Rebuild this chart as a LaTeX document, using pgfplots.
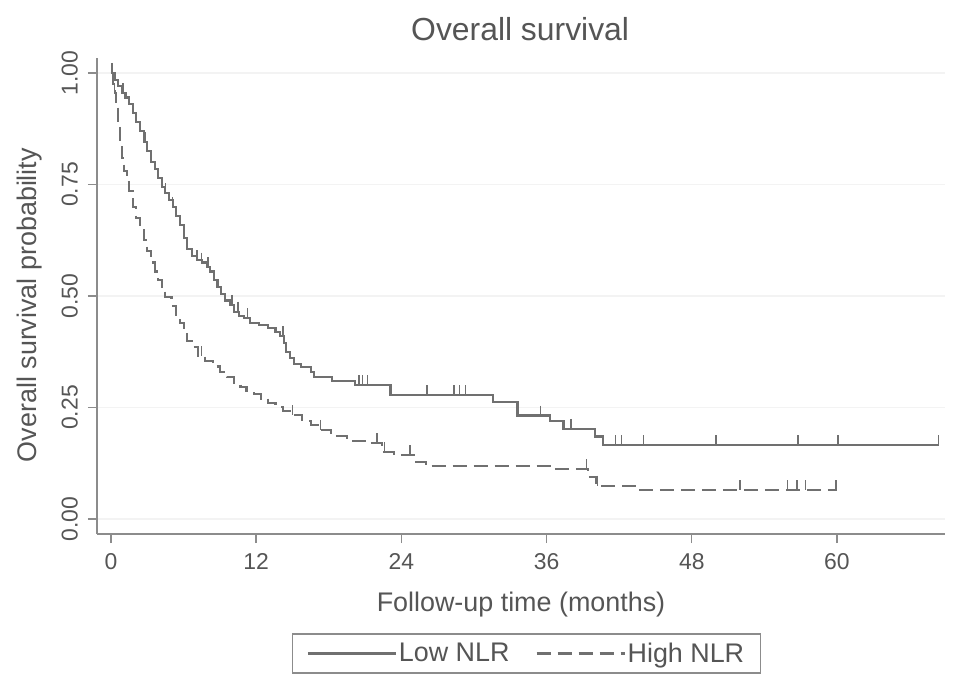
\documentclass[border=0pt]{standalone}
\usepackage{fontspec}
\setmainfont{Liberation Sans}
\usepackage{pgfplots}
\pgfplotsset{compat=1.18}
\definecolor{curve}{RGB}{112,112,112}
\definecolor{txt}{RGB}{85,85,85}
\definecolor{axisgray}{RGB}{140,140,140}
\definecolor{gridc}{RGB}{243,243,243}
\begin{document}
\begin{tikzpicture}
\useasboundingbox (-97bp,-158bp) rectangle (872bp,534bp);
\begin{axis}[
  scale only axis, width=848bp, height=476bp,
  xmin=-1.157, xmax=68.93, ymin=-0.0336, ymax=1.0336,
  axis x line*=bottom, axis y line*=left,
  axis line style={axisgray, line width=1.6bp, -},
  xtick={0,12,24,36,48,60},
  ytick={0,0.25,0.5,0.75,1},
  yticklabel={\pgfmathprintnumber[fixed,precision=2,zerofill]{\tick}},
  /pgf/number format/assume math mode=true,
  tick align=outside, major tick length=9bp,
  tick style={axisgray, line width=1.4bp},
  ticklabel style={font=\fontsize{23}{27}\selectfont, text=txt},
  xticklabel style={anchor=north, inner sep=0pt, yshift=-10bp},
  yticklabel style={rotate=90, anchor=south, inner sep=0pt, yshift=10bp},
  ymajorgrids, grid style={gridc, line width=1.2bp},
  title={Overall survival},
  title style={at={(axis description cs:0.499,1.049)}, anchor=center, font=\fontsize{32}{38}\selectfont, text=txt},
  xlabel={Follow-up time (months)},
  xlabel style={at={(axis description cs:0.5,-0.148)}, anchor=center, font=\fontsize{27}{32}\selectfont, text=txt},
  ylabel={Overall survival probability},
  ylabel style={at={(axis description cs:-0.079,0.481)}, anchor=center, font=\fontsize{27}{32}\selectfont, text=txt},
  legend columns=2,
  legend style={at={(axis description cs:0.5065,-0.251)}, anchor=center, draw=axisgray, line width=1.2bp,
    font=\fontsize{27}{32}\selectfont, text=txt, inner xsep=14bp, inner ysep=7bp,
    /tikz/every even column/.append style={column sep=24bp}},
  legend image code/.code={\draw[#1] (0bp,0bp) -- (88bp,0bp);},
]
\addplot[const plot, curve, line width=2.1bp] coordinates {
(0,1.0) (0.3,0.985) (0.6,0.97) (0.9,0.955) (1.2,0.945) (1.5,0.93) (1.8,0.91)
(2.1,0.89) (2.4,0.87) (2.7,0.845) (3.0,0.825) (3.3,0.80) (3.6,0.785) (3.9,0.765)
(4.2,0.745) (4.5,0.73) (4.8,0.715) (5.1,0.70) (5.4,0.68) (5.7,0.66) (6.0,0.63)
(6.3,0.605) (6.7,0.59) (7.1,0.58) (7.5,0.575) (7.9,0.565) (8.2,0.555) (8.5,0.535)
(8.8,0.52) (9.1,0.505) (9.4,0.49) (9.8,0.48) (10.2,0.465) (10.6,0.455) (11.0,0.45)
(11.5,0.44) (12.2,0.435) (13.0,0.428) (13.6,0.42) (14.0,0.41) (14.3,0.395) (14.5,0.375)
(14.8,0.36) (15.1,0.348) (15.7,0.34) (16.5,0.33) (16.8,0.318) (18.3,0.309) (20.2,0.30)
(23.1,0.278) (31.6,0.262) (33.6,0.232) (36.3,0.219) (37.4,0.202) (40.0,0.185)
(40.7,0.165) (68.4,0.165)
};
\addlegendentry{Low NLR}
\addplot[const plot, curve, line width=2.1bp, dash pattern=on 14bp off 7bp] coordinates {
(0,1.0) (0.15,0.975) (0.3,0.955) (0.45,0.93) (0.6,0.89) (0.75,0.85) (0.9,0.81)
(1.1,0.78) (1.3,0.755) (1.5,0.735) (1.8,0.70) (2.1,0.675) (2.4,0.655) (2.7,0.625)
(3.0,0.60) (3.3,0.575) (3.6,0.555) (3.9,0.535) (4.2,0.515) (4.5,0.498) (5.0,0.478)
(5.4,0.455) (5.7,0.44) (6.0,0.42) (6.3,0.40) (6.7,0.385) (7.2,0.365) (7.8,0.355)
(8.4,0.342) (9.0,0.33) (9.6,0.318) (10.2,0.305) (10.7,0.295) (11.2,0.288) (11.8,0.28)
(12.4,0.27) (13.0,0.26) (13.6,0.252) (14.2,0.243) (15.0,0.233) (15.8,0.22) (16.5,0.21)
(17.2,0.20) (18.2,0.186) (19.5,0.175) (21.2,0.17) (22.4,0.15) (23.4,0.143) (25.2,0.128)
(26.0,0.118) (36.4,0.112) (39.4,0.094) (40.1,0.075) (43.7,0.065) (60.0,0.065)
};
\addlegendentry{High NLR}
% censoring ticks (drawn upward from the curve)
\addplot[forget plot, only marks, mark=|, mark size=5bp, curve, mark options={line width=1.5bp}] coordinates {
(0.1,1.0112) (1.0,0.9662) (2.8,0.8562) (4.5,0.7412) (5.1,0.7112) (7.1,0.5912) (7.5,0.5862)
(8.0,0.5762) (10.0,0.4912) (10.5,0.4762) (11.3,0.4612) (14.2,0.4212) (20.5,0.3112)
(20.8,0.3112) (21.2,0.3112) (26.1,0.2892) (28.3,0.2892) (28.4,0.2892) (28.8,0.2892)
(29.3,0.2892) (35.5,0.2432) (38.0,0.2132) (41.7,0.1762) (42.2,0.1762) (44.0,0.1762)
(50.0,0.1762) (56.8,0.1762) (60.1,0.1762) (68.4,0.1762)
};
\addplot[forget plot, only marks, mark=|, mark size=5bp, curve, mark options={line width=1.5bp}] coordinates {
(0.3,0.9662) (7.5,0.3762) (15.0,0.2442) (17.3,0.2112) (22.0,0.1812) (22.6,0.1612)
(24.7,0.1542) (39.3,0.1232) (40.2,0.0862) (52.0,0.0762) (55.9,0.0762) (56.7,0.0762)
(57.4,0.0762) (59.9,0.0762)
};
\end{axis}
\end{tikzpicture}
\end{document}
